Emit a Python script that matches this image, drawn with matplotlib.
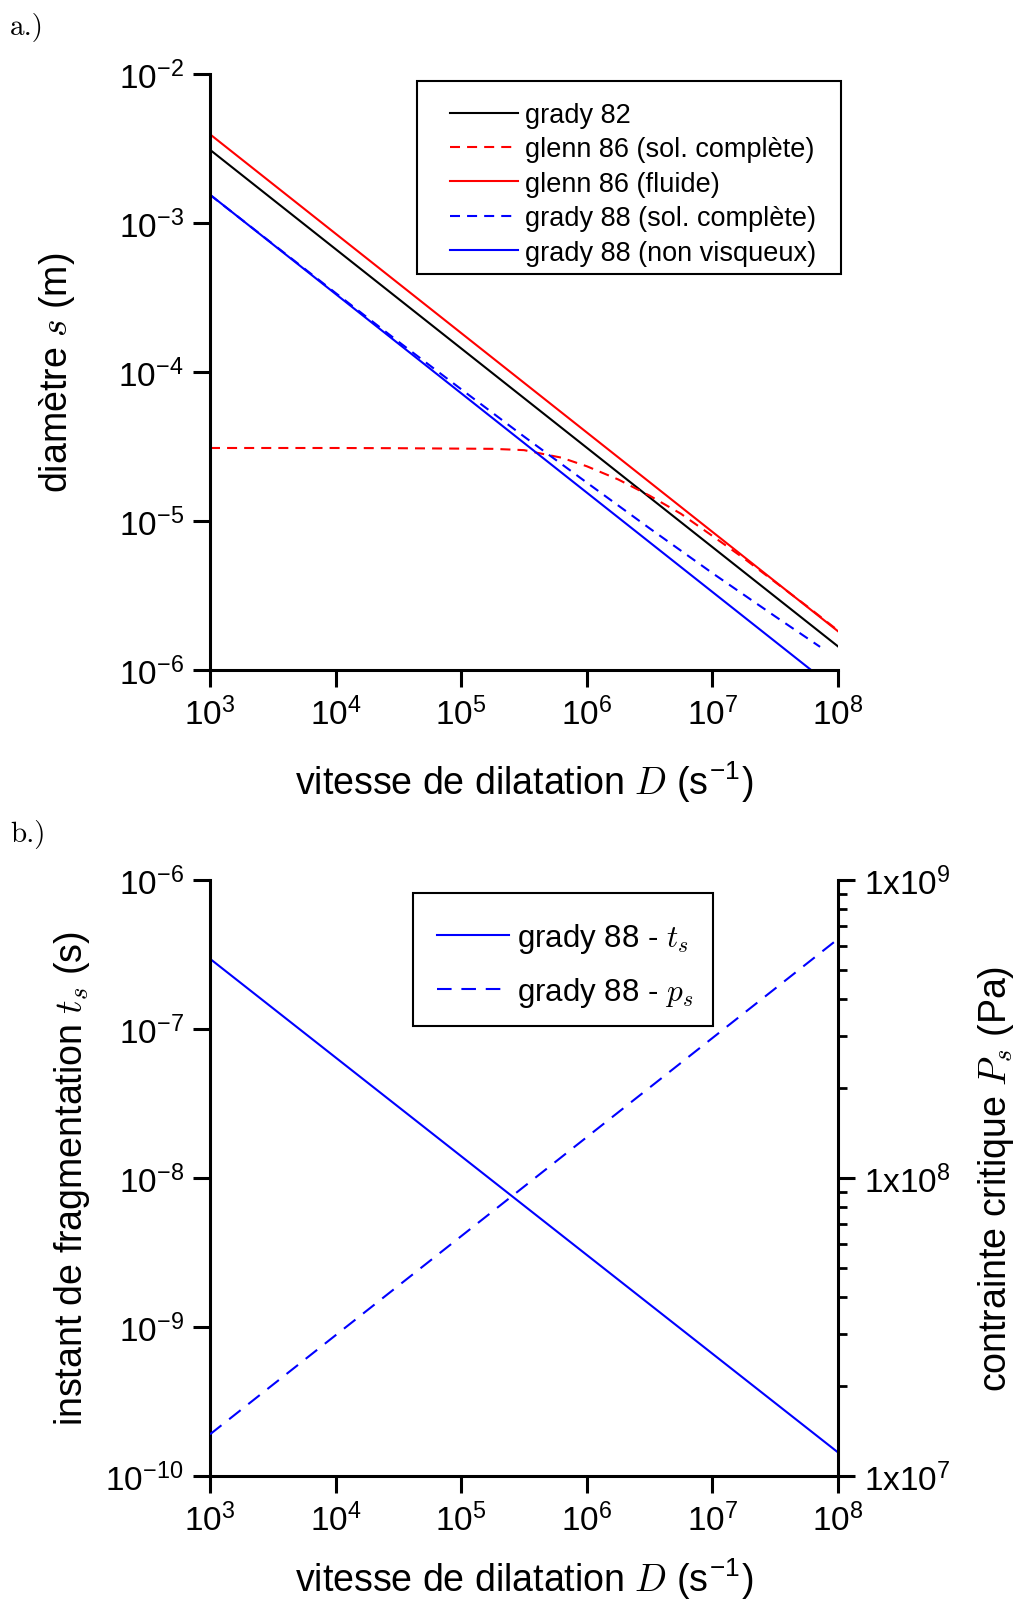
import math
import matplotlib
matplotlib.use("Agg")
import matplotlib.pyplot as plt
import matplotlib.ticker as mtick
from matplotlib.patches import Rectangle

plt.rcParams['font.family'] = ['Liberation Sans', 'DejaVu Sans']
plt.rcParams['mathtext.fontset'] = 'cm'

# --- data ---
D_LINE = [1e3, 1e8]
S_GRADY82 = [3.1e-3, 1.44e-6]
S_GLENN86_FLUIDE = [3.94e-3, 1.82e-6]
S_GRADY88_NV = [1.55e-3, 7.2e-7]

D_GLENN86 = [1e3, 1e4, 3.16e4, 1e5, 1.78e5, 3.16e5, 6.3e5, 1e6, 1.78e6,
             3.16e6, 5.6e6, 1e7, 1.78e7, 3.16e7, 5.6e7, 1e8]
S_GLENN86 = [3.09e-5, 3.09e-5, 3.08e-5, 3.06e-5, 3.05e-5, 2.99e-5, 2.66e-5,
             2.33e-5, 1.90e-5, 1.48e-5, 1.12e-5, 7.94e-6, 5.62e-6, 3.89e-6,
             2.70e-6, 1.84e-6]

D_GRADY88 = [1e3, 1e4, 3.16e4, 1e5, 3.16e5, 1e6, 3.16e6, 1e7, 3.16e7, 7.2e7]
S_GRADY88 = [1.545e-3, 3.39e-4, 1.60e-4, 7.66e-5, 3.69e-5, 1.81e-5, 8.93e-6,
             4.47e-6, 2.29e-6, 1.43e-6]

T_S = [2.96e-7, 1.44e-10]
P_S = [1.38e7, 6.34e8]

LABELS_A = ['grady 82', 'glenn 86 (sol. complète)', 'glenn 86 (fluide)',
            'grady 88 (sol. complète)', 'grady 88 (non visqueux)']
LABELS_B = [r'grady 88 - $t_s$', r'grady 88 - $p_s$']

W, H = 1024, 1606
fig = plt.figure(figsize=(W / 100, H / 100), dpi=100)


def px_box(x0, y0, x1, y1):
    return [x0 / W, 1 - y1 / H, (x1 - x0) / W, (y1 - y0) / H]


def pow_fmt(v, pos):
    return r'$\mathregular{10^{%d}}$' % round(math.log10(v))


def onex_fmt(v, pos):
    return r'$\mathregular{1x10^{%d}}$' % round(math.log10(v))


def style_axis(ax):
    ax.set_xscale('log')
    ax.set_yscale('log')
    ax.set_xlim(1e3, 1e8)
    ax.spines['top'].set_visible(False)
    ax.spines['right'].set_visible(False)
    for s in ['left', 'bottom']:
        ax.spines[s].set_linewidth(2.2)
    ax.xaxis.set_major_locator(mtick.LogLocator(base=10, numticks=10))
    ax.yaxis.set_major_locator(mtick.LogLocator(base=10, numticks=10))
    ax.xaxis.set_minor_locator(mtick.NullLocator())
    ax.yaxis.set_minor_locator(mtick.NullLocator())
    ax.xaxis.set_major_formatter(mtick.FuncFormatter(pow_fmt))
    ax.yaxis.set_major_formatter(mtick.FuncFormatter(pow_fmt))
    ax.tick_params(which='major', direction='out', length=12, width=2.2,
                   labelsize=24, pad=7)
    ax.set_xlabel(r'vitesse de dilatation $D$ (s$^{\mathregular{-1}}$)', fontsize=27)


# --- a.) ---
ax1 = fig.add_axes(px_box(210, 75, 838, 671))
style_axis(ax1)
ax1.set_ylim(1e-6, 1e-2)
l1, = ax1.plot(D_LINE, S_GRADY82, color='black', lw=1.5)
l2, = ax1.plot(D_GLENN86, S_GLENN86, color='red', lw=1.5, ls=(0, (4.8, 3.4)))
l3, = ax1.plot(D_LINE, S_GLENN86_FLUIDE, color='red', lw=1.5)
l4, = ax1.plot(D_GRADY88, S_GRADY88, color='blue', lw=1.5, ls=(0, (4.8, 3.4)))
l5, = ax1.plot(D_LINE, S_GRADY88_NV, color='blue', lw=1.5)
ax1.set_ylabel(r'diamètre $s$ (m)', fontsize=27)
ax1.xaxis.set_label_coords(0.5, -0.149)
ax1.yaxis.set_label_coords(-0.212, 0.5)

ax1.legend([l1, l2, l3, l4, l5], LABELS_A, frameon=False, loc='upper left',
           bbox_to_anchor=(450 / W, 1 - 103 / H), bbox_transform=fig.transFigure,
           borderpad=0, borderaxespad=0, handlelength=2.5, handletextpad=0.26,
           labelspacing=0.31, fontsize=19.5)
fig.add_artist(Rectangle((417 / W, 1 - 275 / H), 424 / W, 193 / H,
                         transform=fig.transFigure, fill=False, lw=1.5,
                         edgecolor='black'))

# --- b.) ---
ax2 = fig.add_axes(px_box(210, 881, 838, 1477))
style_axis(ax2)
ax2.set_ylim(1e-10, 1e-6)
m1, = ax2.plot(D_LINE, T_S, color='blue', lw=1.5)
ax2.set_ylabel(r'instant de fragmentation $t_s$ (s)', fontsize=27)
ax2.xaxis.set_label_coords(0.5, -0.134)
ax2.yaxis.set_label_coords(-0.188, 0.5)

ax3 = ax2.twinx()
ax3.set_yscale('log')
ax3.set_ylim(1e7, 1e9)
ax3.set_xlim(1e3, 1e8)
for s in ['top', 'left', 'bottom']:
    ax3.spines[s].set_visible(False)
ax3.spines['right'].set_linewidth(2.2)
m2, = ax3.plot(D_LINE, P_S, color='blue', lw=1.5, ls=(0, (7, 4.7)))
ax3.yaxis.set_major_locator(mtick.LogLocator(base=10, numticks=10))
ax3.yaxis.set_minor_locator(mtick.LogLocator(base=10, subs=range(2, 10), numticks=10))
ax3.yaxis.set_major_formatter(mtick.FuncFormatter(onex_fmt))
ax3.yaxis.set_minor_formatter(mtick.NullFormatter())
ax3.tick_params(which='major', direction='out', length=12, width=2.2,
                labelsize=24, pad=7)
ax3.tick_params(which='minor', direction='out', length=6.5, width=2)
ax3.set_ylabel(r'contrainte critique $P_s$ (Pa)', fontsize=27)
ax3.yaxis.set_label_coords(1.22, 0.5)

ax2.legend([m1, m2], LABELS_B, frameon=False, loc='upper left',
           bbox_to_anchor=(437 / W, 1 - 922 / H), bbox_transform=fig.transFigure,
           borderpad=0, borderaxespad=0, handlelength=2.3, handletextpad=0.26,
           labelspacing=0.63, fontsize=22.5)
fig.add_artist(Rectangle((413 / W, 1 - 1027 / H), 300 / W, 133 / H,
                         transform=fig.transFigure, fill=False, lw=1.5,
                         edgecolor='black'))

fig.text(10 / W, 1 - 35 / H, 'a.)', fontsize=21, family='cmr10', va='baseline')
fig.text(10 / W, 1 - 842 / H, 'b.)', fontsize=21, family='cmr10', va='baseline')

fig.savefig('out.png', dpi=100)
